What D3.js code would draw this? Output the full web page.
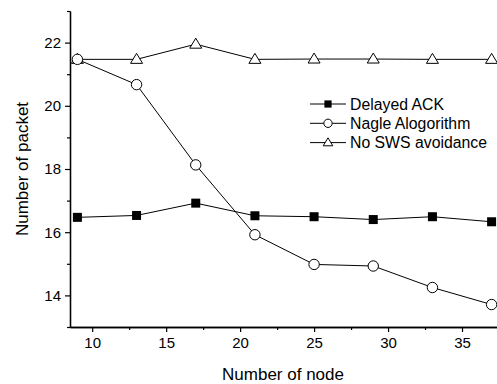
<!DOCTYPE html>
<html>
<head>
<meta charset="utf-8">
<script src="https://cdn.jsdelivr.net/npm/d3@7"></script>
<style>
  body { margin: 0; background: #fff; }
  svg { display: block; font-family: Arial, "Liberation Sans", sans-serif; }
</style>
</head>
<body>
<div id="chart"></div>
<script>
const nodes = [9, 13, 17, 21, 25, 29, 33, 37];
const delayedAck = [16.47, 16.53, 16.92, 16.52, 16.49, 16.40, 16.49, 16.33];
const nagle = [21.47, 20.67, 18.13, 15.92, 14.98, 14.93, 14.25, 13.71];
const noSws = [21.47, 21.47, 21.95, 21.47, 21.48, 21.48, 21.47, 21.47];
const seriesNames = ["Delayed ACK", "Nagle Alogorithm", "No SWS avoidance"];
const xTicks = [10, 15, 20, 25, 30, 35];
const yTicks = [14, 16, 18, 20, 22];

const width = 497, height = 384;
const x = d3.scaleLinear().domain([8.5, 37.5]).range([70, 499]);
const y = d3.scaleLinear().domain([13, 23]).range([327, 11]);

const svg = d3.select("#chart").append("svg")
  .attr("width", width)
  .attr("height", height);

// axes
svg.append("g")
  .attr("transform", "translate(0," + y(13) + ")")
  .call(d3.axisBottom(x).tickValues(xTicks).tickSize(5).tickPadding(5).tickSizeOuter(0));
svg.append("g")
  .attr("transform", "translate(0," + y(13) + ")")
  .call(d3.axisBottom(x).tickValues([12.5, 17.5, 22.5, 27.5, 32.5, 37.5]).tickSize(3).tickFormat("").tickSizeOuter(0));
svg.append("g")
  .attr("transform", "translate(" + x(8.5) + ",0)")
  .call(d3.axisLeft(y).tickValues(yTicks).tickSize(5).tickPadding(4).tickSizeOuter(0));
svg.append("g")
  .attr("transform", "translate(" + x(8.5) + ",0)")
  .call(d3.axisLeft(y).tickValues([13, 15, 17, 19, 21, 23]).tickSize(3).tickFormat("").tickSizeOuter(0));

svg.selectAll(".domain").attr("stroke", "#000").attr("stroke-width", 1.3);
svg.selectAll(".tick line").attr("stroke", "#000").attr("stroke-width", 1.2);
svg.selectAll(".tick text")
  .attr("fill", "#000")
  .style("font-size", "15px")
  .style("font-family", "Arial, 'Liberation Sans', sans-serif");

// axis titles
svg.append("text")
  .attr("x", 283).attr("y", 380)
  .attr("text-anchor", "middle")
  .style("font-size", "17px")
  .text("Number of node");
svg.append("text")
  .attr("transform", "translate(28," + y(18) + ") rotate(-90)")
  .attr("text-anchor", "middle")
  .style("font-size", "17px")
  .text("Number of packet");

const line = d3.line().x((d, i) => x(nodes[i])).y(d => y(d));
const allSeries = [delayedAck, nagle, noSws];

const plot = svg.append("g");
allSeries.forEach(vals => {
  plot.append("path")
    .datum(vals)
    .attr("d", line)
    .attr("fill", "none")
    .attr("stroke", "#000")
    .attr("stroke-width", 1);
});

function drawMarker(g, kind, cx, cy, s) {
  if (kind === 0) {
    g.append("rect")
      .attr("x", cx - s * 4.5).attr("y", cy - s * 4.5)
      .attr("width", s * 9).attr("height", s * 9)
      .attr("fill", "#000");
  } else if (kind === 1) {
    g.append("circle")
      .attr("cx", cx).attr("cy", cy).attr("r", s * 5.2)
      .attr("fill", "#fff").attr("stroke", "#000").attr("stroke-width", 1);
  } else {
    const h = s * 10, w = s * 12;
    g.append("path")
      .attr("d", d3.line()([[cx - w / 2, cy + h * 0.4], [cx, cy - h * 0.6], [cx + w / 2, cy + h * 0.4]]) + "Z")
      .attr("fill", "#fff").attr("stroke", "#000").attr("stroke-width", 1);
  }
}

// markers: triangles first, then circles, then squares
[2, 1, 0].forEach(k => {
  allSeries[k].forEach((v, i) => drawMarker(plot, k, x(nodes[i]), y(v), 1));
});

// legend
const legend = svg.append("g");
seriesNames.forEach((name, k) => {
  const ly = 104 + k * 19.3;
  legend.append("line")
    .attr("x1", 310).attr("x2", 346)
    .attr("y1", ly).attr("y2", ly)
    .attr("stroke", "#000").attr("stroke-width", 1);
  drawMarker(legend, k, 328, ly, 0.8);
  legend.append("text")
    .attr("x", 350).attr("y", ly + 5.5)
    .style("font-size", "15.8px")
    .text(name);
});
</script>
</body>
</html>
